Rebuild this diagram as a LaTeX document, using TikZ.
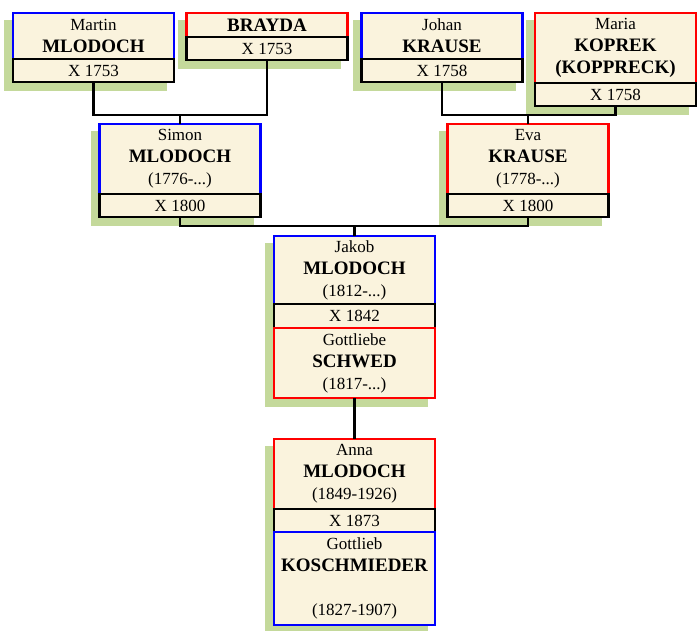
\documentclass[tikz,border=0pt]{standalone}
\usepackage{fontspec}
\setmainfont{Liberation Serif}
\usepackage{xcolor}
\usepackage{tikz}
\usetikzlibrary{positioning, backgrounds}
\definecolor{cream}{RGB}{250, 243, 221}
\definecolor{leaf}{RGB}{196, 217, 155}
\definecolor{manline}{RGB}{0, 0, 255}
\definecolor{womanline}{RGB}{255, 0, 0}

\newcommand{\famname}[1]{{\fontsize{19}{22}\selectfont\bfseries #1}}
\newcommand{\backdrop}[2]{\fill[leaf] ([shift={(-9,7)}]#1.north west) rectangle ([shift={(-7,9)}]#2.south east);}

\tikzset{
	person/.style={
		draw,
		fill=cream,
		line width=2.4pt,
		minimum width=161pt,
		minimum height=#1,
		inner xsep=0pt,
		inner ysep=1pt,
		outer sep=0pt,
		align=center,
		anchor=north,
		font=\fontsize{17}{22}\selectfont
	},
	man/.style={person=#1, draw=manline},
	woman/.style={person=#1, draw=womanline},
	wedding/.style={person=23pt, draw=black},
	link/.style={draw=black, line width=2.4pt}
}

\begin{document}
\begin{tikzpicture}[x=1pt, y=-1pt]
	\useasboundingbox (0,0) rectangle (700,630);

	% grandparents
	\node[man=46pt] (martin) at (93.5,13) {Martin\\ \famname{MLODOCH}};
	\node[wedding, below=0pt of martin] (martinx) {X 1753};
	\node[woman=24pt] (brayda) at (267,13) {\famname{BRAYDA}};
	\node[wedding, below=0pt of brayda] (braydax) {X 1753};
	\node[man=46pt] (johan) at (442,13) {Johan\\ \famname{KRAUSE}};
	\node[wedding, below=0pt of johan] (johanx) {X 1758};
	\node[woman=70pt] (maria) at (615.5,13) {Maria\\ \famname{KOPREK}\\ \famname{(KOPPRECK)}};
	\node[wedding, below=0pt of maria] (mariax) {X 1758};

	% parents
	\node[man=70pt] (simon) at (180,124) {Simon\\ \famname{MLODOCH}\\ (1776-...)};
	\node[wedding, below=0pt of simon] (simonx) {X 1800};
	\node[woman=70pt] (eva) at (528,124) {Eva\\ \famname{KRAUSE}\\ (1778-...)};
	\node[wedding, below=0pt of eva] (evax) {X 1800};

	% Jakob and his wife
	\node[man=68pt] (jakob) at (354.5,236) {Jakob\\ \famname{MLODOCH}\\ (1812-...)};
	\node[wedding, minimum height=24pt, below=0pt of jakob] (jakobx) {X 1842};
	\node[woman=70pt, below=0pt of jakobx] (gottliebe) {Gottliebe\\ \famname{SCHWED}\\ (1817-...)};

	% Anna and her husband
	\node[woman=70pt] (anna) at (354.5,439) {Anna\\ \famname{MLODOCH}\\ (1849-1926)};
	\node[wedding, below=0pt of anna] (annax) {X 1873};
	\node[man=93pt, below=0pt of annax] (gottlieb) {Gottlieb\\ \famname{KOSCHMIEDER}\\ \mbox{}\\ (1827-1907)};

	% green shadows
	\begin{scope}[on background layer]
		\backdrop{martin}{martinx}
		\backdrop{brayda}{braydax}
		\backdrop{johan}{johanx}
		\backdrop{maria}{mariax}
		\backdrop{simon}{simonx}
		\backdrop{eva}{evax}
		\backdrop{jakob}{gottliebe}
		\backdrop{anna}{gottlieb}
	\end{scope}

	% connectors
	\coordinate (left1) at (0,115);
	\coordinate (right1) at (0,115);
	\coordinate (mid1) at (0,226);
	\draw[link] (martinx.south) -- (martinx.south |- left1) -- (braydax.south |- left1) -- (braydax.south);
	\draw[link] (simon.north) -- (simon.north |- left1);
	\draw[link] (johanx.south) -- (johanx.south |- right1) -- (mariax.south |- right1) -- (mariax.south);
	\draw[link] (eva.north) -- (eva.north |- right1);
	\draw[link] (simonx.south) -- (simonx.south |- mid1) -- (evax.south |- mid1) -- (evax.south);
	\draw[link] (jakob.north) -- (jakob.north |- mid1);
	\draw[link] (gottliebe.south) -- (anna.north);
\end{tikzpicture}
\end{document}
